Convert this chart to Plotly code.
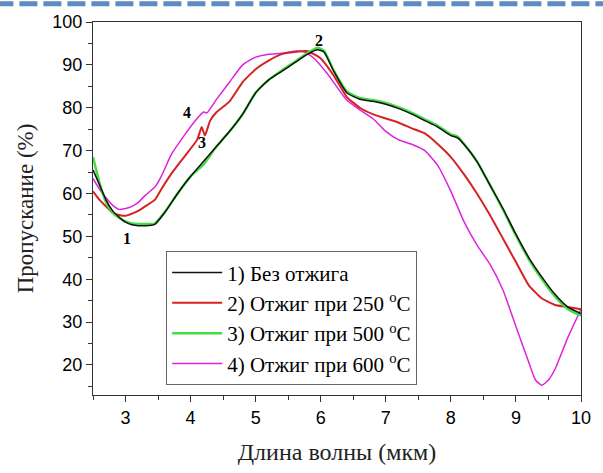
import plotly.graph_objects as go

# wavelength (um) and transmission (%) for each sample
x_black = [2.5, 2.6, 2.7, 2.8, 2.9, 3.0, 3.1, 3.2, 3.3, 3.4, 3.45, 3.6, 3.8, 4.0, 4.2, 4.4, 4.6, 4.8,
           5.0, 5.2, 5.4, 5.6, 5.8, 5.95, 6.05, 6.2, 6.4, 6.6, 6.8, 7.0, 7.2, 7.4, 7.6, 7.8, 8.0,
           8.1, 8.2, 8.4, 8.6, 8.8, 9.0, 9.2, 9.4, 9.6, 9.8, 10.0]
y_black = [65.5, 62, 58.5, 56, 54.5, 53.3, 52.7, 52.5, 52.5, 52.6, 52.8, 55.5, 60, 64, 67.5, 71, 74.5, 78.5,
           83.5, 86.5, 88.5, 90.5, 92.5, 93.5, 93, 88.5, 83.5, 82, 81.5, 80.8, 79.8, 78.5, 77, 75.5, 73.5,
           73, 71.5, 67.5, 62, 56.5, 50.5, 45, 40.5, 36.5, 33.5, 32]

x_green = [2.5, 2.6, 2.7, 2.8, 2.9, 3.0, 3.1, 3.2, 3.3, 3.4, 3.45, 3.6, 3.8, 4.0, 4.2, 4.25, 4.4, 4.6, 4.8,
           5.0, 5.2, 5.4, 5.6, 5.8, 5.95, 6.05, 6.2, 6.4, 6.6, 6.8, 7.0, 7.2, 7.4, 7.6, 7.8, 8.0,
           8.1, 8.2, 8.4, 8.6, 8.8, 9.0, 9.2, 9.4, 9.6, 9.8, 10.0]
y_green = [68.5, 62.5, 58, 55.5, 54.3, 53.5, 53, 52.9, 52.9, 52.9, 53, 55.6, 60, 64, 66.8, 67.8, 71, 74.5, 78.5,
           83.5, 86.5, 88.7, 90.7, 92.8, 94, 93.3, 88.7, 83.8, 82.3, 81.8, 81.1, 80.1, 78.8, 77.3, 75.8, 73.8,
           73.3, 71.6, 67.5, 62, 56.3, 50.2, 44.6, 40, 36, 33, 31.5]

x_red = [2.5, 2.6, 2.7, 2.8, 2.9, 3.0, 3.1, 3.2, 3.3, 3.45, 3.55, 3.7, 3.9, 4.1, 4.17, 4.22, 4.3, 4.4, 4.6,
         4.8, 5.0, 5.2, 5.4, 5.6, 5.8, 6.0, 6.2, 6.4, 6.6, 6.8, 7.0, 7.2, 7.4, 7.6, 7.8, 8.0, 8.2,
         8.4, 8.6, 8.8, 9.0, 9.2, 9.4, 9.6, 9.8, 10.0]
y_red = [60.5, 58.5, 57, 55.5, 55, 54.8, 55.3, 56, 57, 58.5, 61, 64.5, 68.5, 72.5, 75.5, 73.5, 77, 79, 81.5,
         86, 89, 91, 92.5, 93, 93.2, 91.5, 87.5, 82.5, 80, 78.5, 77.5, 76.5, 75.2, 74, 71.5, 68.5, 64.5,
         60, 55, 49.5, 44, 38.5, 35.5, 34, 33.5, 33]

x_mag = [2.5, 2.6, 2.7, 2.8, 2.9, 3.0, 3.1, 3.2, 3.3, 3.45, 3.55, 3.7, 3.9, 4.1, 4.2, 4.25, 4.4, 4.6, 4.8,
         5.0, 5.2, 5.4, 5.6, 5.75, 5.9, 6.1, 6.4, 6.6, 6.8, 7.0, 7.2, 7.4, 7.6, 7.8, 8.0, 8.2, 8.4,
         8.6, 8.8, 9.0, 9.2, 9.3, 9.4, 9.5, 9.6, 9.8, 10.0]
y_mag = [63.5, 61, 59, 57.3, 56.3, 56.5, 57, 58, 59.5, 61.5, 64, 69, 73.5, 77.5, 79, 78.8, 82, 86, 90,
         91.8, 92.5, 92.7, 93.2, 93, 91.5, 88, 81.8, 79.5, 77.5, 74.5, 72.5, 71.5, 70, 66.5, 60.5, 53.5, 48,
         43.5, 37.5, 29, 20.5, 16.5, 15.3, 16.5, 19, 26.5, 33]

names = ["1) Без отжига", "2) Отжиг при 250 <sup>o</sup>C",
         "3) Отжиг при 500 <sup>o</sup>C", "4) Отжиг при 600 <sup>o</sup>C"]
labels = ["1", "2", "3", "4"]
label_x = [3.02, 5.98, 4.17, 3.95]
label_y = [49.4, 95.6, 71.8, 78.8]

serif = "Liberation Serif, Times New Roman, serif"
sans = "Liberation Sans, Arial, sans-serif"

fig = go.Figure()
# draw order: magenta, red, green, black (black on top)
fig.add_trace(go.Scatter(x=x_mag, y=y_mag, mode="lines", name=names[3], legendrank=4, legendgroup="d",
                         line=dict(color="#dd22dd", width=1.5, shape="spline", smoothing=0.5)))
fig.add_trace(go.Scatter(x=x_red, y=y_red, mode="lines", name=names[1], legendrank=2, legendgroup="b",
                         line=dict(color="#d62222", width=2, shape="spline", smoothing=0.4)))
fig.add_trace(go.Scatter(x=x_green, y=y_green, mode="lines", name=names[2], legendrank=3, legendgroup="c",
                         line=dict(color="#44dd44", width=2.5, shape="spline", smoothing=0.5)))
fig.add_trace(go.Scatter(x=x_black, y=y_black, mode="lines", name=names[0], legendrank=1, legendgroup="a",
                         line=dict(color="#111111", width=1.5, shape="spline", smoothing=0.5)))

for t, xx, yy in zip(labels, label_x, label_y):
    fig.add_annotation(x=xx, y=yy, text="<b>" + t + "</b>", showarrow=False,
                       font=dict(family=serif, size=16, color="black"))

# decorative dashed border line at top of page
fig.add_shape(type="line", xref="paper", yref="paper", x0=-0.2, x1=1.1,
              y0=1 + 18.5 / 376, y1=1 + 18.5 / 376,
              line=dict(color="#5f8ac4", width=5, dash="18px,6px"))

fig.update_layout(
    width=603, height=473,
    margin=dict(l=93, r=16, t=21, b=76),
    paper_bgcolor="white", plot_bgcolor="white",
    showlegend=True,
    legend=dict(x=0.15, y=0.385, xanchor="left", yanchor="top",
                bordercolor="#666666", borderwidth=1, bgcolor="white",
                font=dict(family=serif, size=21, color="black"),
                traceorder="grouped", tracegroupgap=0, itemwidth=50),
    xaxis=dict(range=[2.5, 10], dtick=1, tick0=0, showgrid=False, zeroline=False,
               showline=True, mirror=True, linecolor="#333333", linewidth=1.2,
               ticks="outside", ticklen=6, tickcolor="#333333",
               minor=dict(dtick=0.5, ticks="outside", ticklen=4, tickcolor="#333333"),
               tickfont=dict(family=sans, size=18, color="black"),
               title=dict(text="Длина волны (мкм)", font=dict(family=serif, size=24, color="#222222"),
                          standoff=16)),
    yaxis=dict(range=[13, 100], dtick=10, tick0=0, showgrid=False, zeroline=False,
               showline=True, mirror=True, linecolor="#333333", linewidth=1.2,
               ticks="outside", ticklen=6, tickcolor="#333333",
               minor=dict(dtick=5, ticks="outside", ticklen=4, tickcolor="#333333"),
               tickfont=dict(family=sans, size=18, color="black"),
               title=dict(text="Пропускание (%)", font=dict(family=serif, size=23, color="#222222"),
                          standoff=12)),
)

fig.write_html("out.html")
